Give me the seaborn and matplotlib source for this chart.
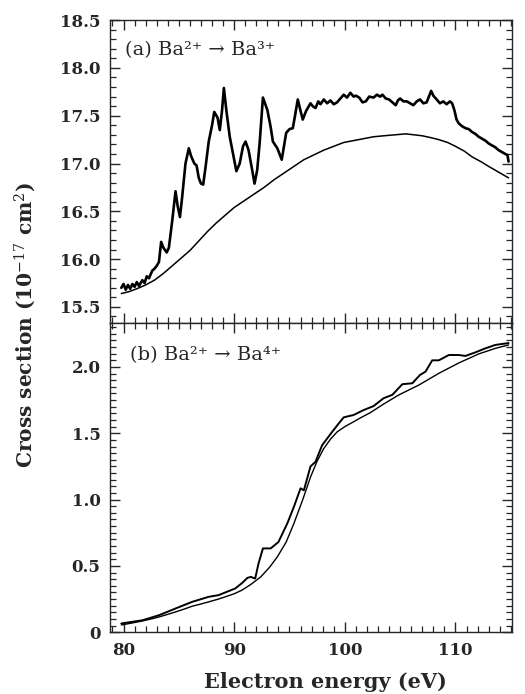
import numpy as np
import pandas as pd
import matplotlib
matplotlib.use("Agg")
import matplotlib.pyplot as plt
import seaborn as sns
from matplotlib.ticker import MultipleLocator, FixedLocator, FuncFormatter

# === Data ===
# (a) Ba2+ -> Ba3+ : measured (noisy) and calculated (smooth), 1e-17 cm^2
a_energy_exp = [79.8, 80.0, 80.2, 80.4, 80.6, 80.8, 81.0, 81.2, 81.4, 81.7, 81.9, 82.1, 82.3,
                82.6, 82.8, 83.0, 83.2, 83.4, 83.6, 83.9, 84.1, 84.4, 84.7, 84.9, 85.1, 85.3,
                85.6, 85.9, 86.1, 86.4, 86.6, 86.8, 87.0, 87.2, 87.4, 87.7, 88.0, 88.2, 88.5,
                88.7, 88.9, 89.07, 89.3, 89.6, 89.9, 90.2, 90.5, 90.8, 91.03, 91.3, 91.6,
                91.84, 92.08, 92.3, 92.6, 93.0, 93.3, 93.5, 93.9, 94.1, 94.3, 94.5, 94.7,
                95.0, 95.3, 95.5, 95.75, 96.0, 96.2, 96.5, 96.9, 97.1, 97.35, 97.6, 97.8,
                98.1, 98.4, 98.7, 99.0, 99.3, 99.6, 99.9, 100.2, 100.5, 100.8, 101.0, 101.3,
                101.6, 101.9, 102.2, 102.6, 102.9, 103.2, 103.4, 103.7, 104.0, 104.3, 104.6,
                104.8, 105.0, 105.3, 105.6, 105.9, 106.2, 106.5, 106.8, 107.1, 107.4, 107.6,
                107.8, 108.0, 108.3, 108.6, 108.9, 109.2, 109.5, 109.7, 109.9, 110.1, 110.3,
                110.6, 110.9, 111.2, 111.5, 111.8, 112.1, 112.4, 112.7, 113.0, 113.3, 113.6,
                113.9, 114.2, 114.5, 114.7, 114.8]
a_sigma_exp = [15.70, 15.74, 15.68, 15.73, 15.69, 15.74, 15.71, 15.76, 15.72, 15.78, 15.75, 15.82, 15.80,
               15.88, 15.90, 15.93, 15.97, 16.18, 16.12, 16.07, 16.12, 16.40, 16.71, 16.55, 16.44, 16.65,
               17.00, 17.16, 17.08, 17.00, 16.98, 16.85, 16.79, 16.78, 16.95, 17.23, 17.40, 17.54, 17.48,
               17.35, 17.55, 17.79, 17.55, 17.28, 17.10, 16.92, 17.00, 17.18, 17.23, 17.14, 16.95,
               16.79, 16.93, 17.21, 17.69, 17.56, 17.38, 17.23, 17.16, 17.10, 17.04, 17.18, 17.32,
               17.36, 17.37, 17.50, 17.67, 17.55, 17.46, 17.55, 17.63, 17.60, 17.58, 17.65, 17.62,
               17.67, 17.63, 17.66, 17.62, 17.64, 17.68, 17.72, 17.69, 17.74, 17.70, 17.71, 17.69,
               17.64, 17.65, 17.70, 17.69, 17.72, 17.70, 17.72, 17.68, 17.67, 17.64, 17.61,
               17.66, 17.68, 17.65, 17.65, 17.63, 17.61, 17.65, 17.67, 17.63, 17.64, 17.70,
               17.76, 17.71, 17.67, 17.63, 17.65, 17.62, 17.65, 17.63, 17.56, 17.46, 17.42,
               17.39, 17.37, 17.36, 17.33, 17.31, 17.28, 17.26, 17.24, 17.21, 17.19, 17.17,
               17.14, 17.12, 17.10, 17.09, 17.02]
a_energy_th = [79.8, 80.5, 81.2, 82.0, 82.8, 83.6, 84.4, 85.2, 86.0, 86.8, 87.6, 88.4, 89.2,
               90.0, 90.9, 91.8, 92.7, 93.6, 94.5, 95.4, 96.3, 97.2, 98.1, 99.0, 99.9, 100.8,
               101.7, 102.6, 103.5, 104.5, 105.5, 106.3, 107.0, 107.8, 108.5, 109.3, 110.0,
               110.8, 111.5, 112.3, 113.0, 113.9, 114.8]
a_sigma_th = [15.64, 15.66, 15.69, 15.73, 15.78, 15.85, 15.93, 16.01, 16.09, 16.19, 16.29, 16.38, 16.46,
              16.54, 16.61, 16.68, 16.75, 16.83, 16.90, 16.97, 17.04, 17.09, 17.14, 17.18, 17.22, 17.24,
              17.26, 17.28, 17.29, 17.30, 17.31, 17.30, 17.29, 17.27, 17.25, 17.22, 17.18,
              17.13, 17.07, 17.02, 16.97, 16.91, 16.85]

# (b) Ba2+ -> Ba4+
b_energy_exp = [79.8, 81.7, 83.2, 84.7, 86.2, 87.7, 88.6, 89.2, 90.1, 90.7, 91.2, 91.5, 91.9,
                92.2, 92.6, 93.3, 94.0, 94.8, 95.4, 96.0, 96.3, 96.9, 97.35, 97.95, 98.85, 99.46,
                99.9, 100.8, 101.7, 102.6, 103.5, 104.3, 105.2, 106.1, 106.8, 107.3, 107.9,
                108.5, 109.4, 110.3, 110.9, 111.8, 112.7, 113.6, 114.8]
b_sigma_exp = [0.066, 0.09, 0.128, 0.179, 0.229, 0.267, 0.28, 0.30, 0.33, 0.37, 0.41, 0.417, 0.405,
               0.518, 0.632, 0.632, 0.68, 0.82, 0.946, 1.085, 1.07, 1.25, 1.285, 1.41, 1.51, 1.575,
               1.62, 1.638, 1.675, 1.705, 1.764, 1.79, 1.87, 1.877, 1.94, 1.965, 2.05,
               2.05, 2.09, 2.09, 2.083, 2.11, 2.14, 2.166, 2.18]
b_energy_th = [79.8, 80.8, 81.7, 82.5, 83.2, 84.0, 84.7, 85.5, 86.2, 87.0, 87.7, 88.5, 89.2, 90.0,
               90.7, 91.5, 92.4, 93.2, 93.9, 94.7, 95.4, 96.2, 96.9, 97.5, 98.1, 98.7, 99.3, 100.0,
               100.8, 101.5, 102.3, 103.5, 104.9, 106.7, 108.5, 110.3, 112.1, 113.6, 114.8]
b_sigma_th = [0.055, 0.07, 0.085, 0.10, 0.115, 0.135, 0.153, 0.175, 0.196, 0.213, 0.229, 0.248, 0.267, 0.29,
              0.317, 0.36, 0.417, 0.49, 0.568, 0.68, 0.82, 1.00, 1.17, 1.29, 1.385, 1.455, 1.51, 1.55,
              1.587, 1.62, 1.655, 1.72, 1.79, 1.864, 1.952, 2.03, 2.098, 2.14, 2.166]

sns.set_style("ticks")
plt.rcParams.update({
    "font.family": "DejaVu Serif",
    "mathtext.fontset": "dejavuserif",
    "xtick.direction": "in",
    "ytick.direction": "in",
    "xtick.top": True,
    "ytick.right": True,
    "axes.linewidth": 1.0,
})

fig = plt.figure(figsize=(5.25, 6.94), dpi=100)
gs = fig.add_gridspec(2, 1, left=0.21, right=0.975, top=0.971, bottom=0.089,
                      hspace=0, height_ratios=[303, 309])
ax_a = fig.add_subplot(gs[0])
ax_b = fig.add_subplot(gs[1], sharex=ax_a)

df_a_exp = pd.DataFrame({"E": a_energy_exp, "sigma": a_sigma_exp})
df_a_th = pd.DataFrame({"E": a_energy_th, "sigma": a_sigma_th})
df_b_exp = pd.DataFrame({"E": b_energy_exp, "sigma": b_sigma_exp})
df_b_th = pd.DataFrame({"E": b_energy_th, "sigma": b_sigma_th})

sns.lineplot(data=df_a_exp, x="E", y="sigma", ax=ax_a, color="black", lw=1.9, sort=False)
sns.lineplot(data=df_a_th, x="E", y="sigma", ax=ax_a, color="black", lw=1.1)
sns.lineplot(data=df_b_exp, x="E", y="sigma", ax=ax_b, color="black", lw=1.4, sort=False)
sns.lineplot(data=df_b_th, x="E", y="sigma", ax=ax_b, color="black", lw=1.0)

ax_a.set_xlim(78.8, 115.1)
ax_a.set_ylim(15.33, 18.5)
ax_b.set_ylim(0, 2.33)

for ax in (ax_a, ax_b):
    ax.xaxis.set_major_locator(MultipleLocator(10))
    ax.xaxis.set_minor_locator(MultipleLocator(1))
    ax.yaxis.set_major_locator(MultipleLocator(0.5))
    ax.tick_params(which="major", length=7, width=1.0, top=True, right=True)
    ax.tick_params(which="minor", length=4, width=0.9, top=True, right=True)
    ax.set_xlabel("")
    ax.set_ylabel("")

ax_a.yaxis.set_minor_locator(MultipleLocator(0.1))
ax_b.yaxis.set_minor_locator(MultipleLocator(0.05))
ax_b.yaxis.set_major_locator(FixedLocator([0, 0.5, 1.0, 1.5, 2.0]))
ax_a.yaxis.set_major_formatter(FuncFormatter(lambda v, p: f"{v:.1f}"))
ax_b.yaxis.set_major_formatter(FuncFormatter(lambda v, p: "0" if v == 0 else f"{v:.1f}"))
ax_a.tick_params(axis="x", labelbottom=False)
ax_a.tick_params(axis="y", labelsize=12, pad=7)
ax_b.tick_params(axis="both", labelsize=12, pad=7)
for lab in ax_a.get_yticklabels() + ax_b.get_yticklabels() + ax_b.get_xticklabels():
    lab.set_fontweight("bold")

ax_a.text(0.037, 0.90, "(a) Ba²⁺ → Ba³⁺", transform=ax_a.transAxes,
          fontsize=14, va="center", ha="left")
ax_b.text(0.05, 0.896, "(b) Ba²⁺ → Ba⁴⁺", transform=ax_b.transAxes,
          fontsize=14, va="center", ha="left")

fig.text(0.62, 0.017, "Electron energy (eV)", ha="center", va="center",
         fontsize=15, fontweight="bold")
fig.text(0.048, 0.532, r"Cross section (10$^{-17}$ cm$^{2}$)", ha="center", va="center",
         rotation=90, fontsize=14.5, fontweight="bold")

fig.savefig("out.png", dpi=100)
